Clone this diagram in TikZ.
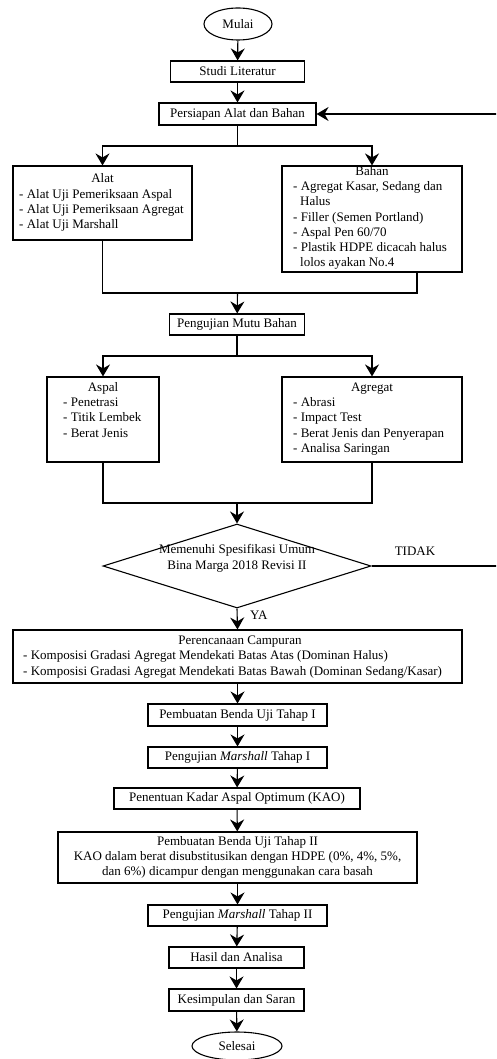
\documentclass[tikz,border=0pt]{standalone}
\usepackage{fontspec}
\setmainfont{Liberation Serif}
\usetikzlibrary{arrows.meta,shapes.geometric}
\begin{document}
\begin{tikzpicture}[x=1pt,y=-1pt,
  every node/.style={font=\fontsize{13}{15.3}\selectfont},
  box/.style={draw, line width=1.1pt, inner sep=0pt, rectangle},
  oval/.style={draw, ellipse, line width=1.1pt, inner sep=0pt},
  txt/.style={inner sep=0pt},
  lt/.style={txt, anchor=mid west},
  ct/.style={txt, anchor=mid},
  arr/.style={-{Stealth[length=12pt,width=14pt,inset=4pt]}, line width=1.1pt},
  ln/.style={line width=1.1pt}]
\clip (0,0) rectangle (496,1059);
\path[use as bounding box] (0,0) rectangle (496,1059);

% boxes
\node[oval, minimum width=68pt, minimum height=32pt] (mulai) at (238,24) {Mulai};
\node[box, minimum width=134pt, minimum height=21pt] (studi) at (237.5,71.5) {Studi Literatur};
\node[box, minimum width=157pt, minimum height=22pt] (persiapan) at (237.5,114) {Persiapan Alat dan Bahan};
\node[box, minimum width=179pt, minimum height=74pt] (alat) at (102.5,203) {};
\node[box, minimum width=180pt, minimum height=106pt] (bahan) at (372,219) {};
\node[box, minimum width=135pt, minimum height=21pt] (uji) at (237,324.5) {Pengujian Mutu Bahan};
\node[box, minimum width=112pt, minimum height=85pt] (aspal) at (103,419.5) {};
\node[box, minimum width=180pt, minimum height=85pt] (agregat) at (372,419.5) {};
\node[draw, diamond, line width=1.1pt, minimum width=268pt, minimum height=84pt, inner sep=0pt] (dia) at (237,566) {};
\node[box, minimum width=449pt, minimum height=53pt] (rencana) at (237.5,656.5) {};
\node[box, minimum width=179pt, minimum height=22pt] (buat1) at (237.5,715) {Pembuatan Benda Uji Tahap I};
\node[box, minimum width=179pt, minimum height=21pt] (marsh1) at (237.5,757.5) {Pengujian \textit{Marshall} Tahap I};
\node[box, minimum width=246pt, minimum height=21pt] (kao) at (237,798.5) {Penentuan Kadar Aspal Optimum (KAO)};
\node[box, minimum width=359pt, minimum height=51pt] (buat2) at (237.5,857.5) {};
\node[box, minimum width=179pt, minimum height=21pt] (marsh2) at (237.5,915.5) {Pengujian \textit{Marshall} Tahap II};
\node[box, minimum width=135pt, minimum height=21pt] (hasil) at (236.5,957.5) {Hasil dan Analisa};
\node[box, minimum width=135pt, minimum height=22pt] (kes) at (236.5,1000) {Kesimpulan dan Saran};
\node[oval, minimum width=90pt, minimum height=28pt] (selesai) at (237,1046) {Selesai};

% texts: Alat
\node[ct] (alatT) at (102.5,180.7) {Alat};
\node[lt] (alat1) at (19,196) {- Alat Uji Pemeriksaan Aspal};
\node[lt] (alat2) at (19,211.3) {- Alat Uji Pemeriksaan Agregat};
\node[lt] (alat3) at (19,226.6) {- Alat Uji Marshall};
% Bahan
\node[ct] (bahanT) at (372,173.5) {Bahan};
\node[lt] (bahan1) at (293,188.6) {- Agregat Kasar, Sedang dan};
\node[lt] (bahan1b) at (300,203.7) {Halus};
\node[lt] (bahan2) at (293,218.8) {- Filler (Semen Portland)};
\node[lt] (bahan3) at (293,233.9) {- Aspal Pen 60/70};
\node[lt] (bahan4) at (293,249) {- Plastik HDPE dicacah halus};
\node[lt] (bahan4b) at (300,264.1) {lolos ayakan No.4};
% Aspal
\node[ct] (aspalT) at (103,389.3) {Aspal};
\node[lt] (aspal1) at (63,404.5) {- Penetrasi};
\node[lt] (aspal2) at (63,419.7) {- Titik Lembek};
\node[lt] (aspal3) at (63,434.9) {- Berat Jenis};
% Agregat
\node[ct] (agrT) at (372,389.3) {Agregat};
\node[lt] (agr1) at (293,404.5) {- Abrasi};
\node[lt] (agr2) at (293,419.7) {- Impact Test};
\node[lt] (agr3) at (293,434.9) {- Berat Jenis dan Penyerapan};
\node[lt] (agr4) at (293,450.1) {- Analisa Saringan};
% diamond
\node[ct] (dia1) at (237,551) {Memenuhi Spesifikasi Umum};
\node[ct] (dia2) at (237,567.5) {Bina Marga 2018 Revisi II};
\node[ct] (tidak) at (415,553) {TIDAK};
\node[lt] (ya) at (250,617) {YA};
% rencana
\node[ct] (rencanaT) at (240,641.7) {Perencanaan Campuran};
\node[lt] (rencana1) at (23,657.2) {- Komposisi Gradasi Agregat Mendekati Batas Atas (Dominan Halus)};
\node[lt] (rencana2) at (23,672.7) {- Komposisi Gradasi Agregat Mendekati Batas Bawah (Dominan Sedang/Kasar)};
% buat2
\node[ct] (buat2a) at (237.5,842.7) {Pembuatan Benda Uji Tahap II};
\node[ct] (buat2b) at (237.5,858.1) {KAO dalam berat disubstitusikan dengan HDPE (0\%, 4\%, 5\%,};
\node[ct] (buat2c) at (237.5,873.5) {dan 6\%) dicampur dengan menggunakan cara basah};

% connectors
\draw[arr] (mulai) -- (studi);
\draw[arr] (studi) -- (persiapan);
\coordinate (b1) at (237.5,146);
\draw[ln] (persiapan.south) -- (b1);
\draw[arr] (b1) -| (alat.north);
\draw[arr] (b1) -| (bahan.north);
\coordinate (m1) at (237.5,293);
\coordinate (bahanS) at (417,272);
\draw[ln] (alat.south) |- (m1);
\draw[ln] (bahanS) |- (m1);
\draw[arr] (m1) -- (uji);
\coordinate (b2) at (237,356);
\draw[ln] (uji.south) -- (b2);
\draw[arr] (b2) -| (aspal.north);
\draw[arr] (b2) -| (agregat.north);
\coordinate (m2) at (237,503);
\draw[ln] (aspal.south) |- (m2);
\draw[ln] (agregat.south) |- (m2);
\draw[arr] (m2) -- (dia.north);
\coordinate (ret) at (505,566);
\draw[arr] (dia.east) -- (ret) |- (persiapan.east);
\draw[arr] (dia.south) -- (rencana.north);
\draw[arr] (rencana) -- (buat1);
\draw[arr] (buat1) -- (marsh1);
\draw[arr] (marsh1) -- (kao);
\draw[arr] (kao) -- (buat2);
\draw[arr] (buat2) -- (marsh2);
\draw[arr] (marsh2) -- (hasil);
\draw[arr] (hasil) -- (kes);
\draw[arr] (kes) -- (selesai);
\end{tikzpicture}
\end{document}
